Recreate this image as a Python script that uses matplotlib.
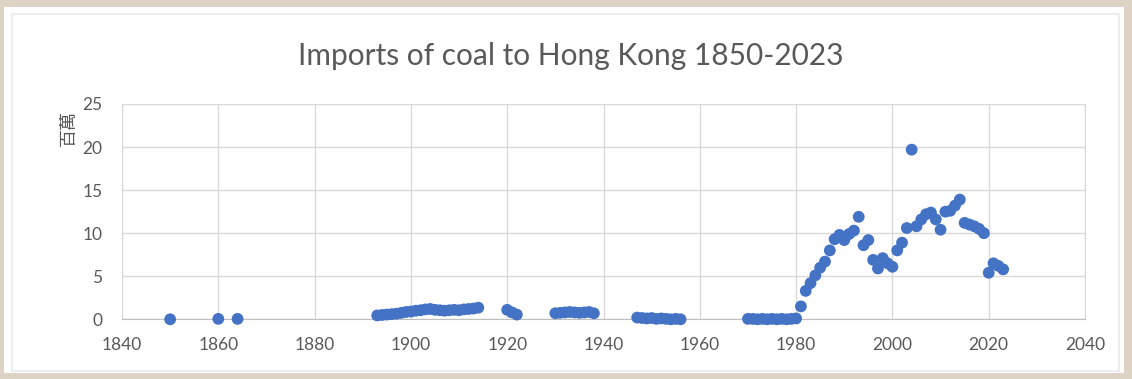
import matplotlib.pyplot as plt
from matplotlib.patches import Rectangle

# coal imports, millions of tonnes
years_early = [1850, 1860, 1864]
vals_early = [0.0, 0.05, 0.05]

years_1890s = list(range(1893, 1915))
vals_1890s = [0.45, 0.5, 0.55, 0.6, 0.65, 0.75, 0.85, 0.9, 1.0, 1.05, 1.15, 1.2, 1.1, 1.05,
              1.0, 1.05, 1.1, 1.05, 1.15, 1.2, 1.25, 1.35]

years_1920s = [1920, 1921, 1922]
vals_1920s = [1.1, 0.8, 0.55]

years_1930s = list(range(1930, 1939))
vals_1930s = [0.7, 0.75, 0.8, 0.85, 0.8, 0.75, 0.8, 0.85, 0.7]

years_1940s = list(range(1947, 1957))
vals_1940s = [0.2, 0.15, 0.1, 0.15, 0.05, 0.1, 0.05, 0.0, 0.05, 0.0]

years_modern = list(range(1970, 2024))
vals_modern = [0.05, 0.05, 0.0, 0.05, 0.0, 0.05, 0.0, 0.05, 0.0, 0.05, 0.1,
               1.5, 3.3, 4.2, 5.1, 6.0, 6.7, 8.0, 9.3, 9.8, 9.2,
               9.9, 10.3, 11.9, 8.6, 9.2, 6.9, 5.9, 7.1, 6.5, 6.1,
               8.0, 8.9, 10.6, 19.7, 10.8, 11.6, 12.2, 12.4, 11.6, 10.4,
               12.5, 12.6, 13.2, 13.9, 11.2, 11.0, 10.8, 10.5, 10.0, 5.4,
               6.5, 6.2, 5.8]

years = years_early + years_1890s + years_1920s + years_1930s + years_1940s + years_modern
vals = vals_early + vals_1890s + vals_1920s + vals_1930s + vals_1940s + vals_modern

x_ticks = list(range(1840, 2041, 20))
y_ticks = [0, 5, 10, 15, 20, 25]

text_grey = '#595959'
grid_grey = '#d9d9d9'

W, H = 1132, 379
fig = plt.figure(figsize=(W / 100, H / 100), dpi=100)
fig.patch.set_facecolor('#ddd3c5')
# white chart card on the marble background, with a faint inner frame
fig.patches.append(Rectangle((4 / W, 6 / H), 1120 / W, 366 / H,
                             transform=fig.transFigure, facecolor='white',
                             edgecolor='none', zorder=-10))
fig.patches.append(Rectangle((12 / W, 8 / H), 1107 / W, 357 / H,
                             transform=fig.transFigure, facecolor='none',
                             edgecolor='#ededed', linewidth=1.5, zorder=-9))

ax = fig.add_axes([122 / W, 59.7 / H, 963 / W, 215.3 / H])
ax.set_zorder(5)
ax.set_facecolor('white')
ax.scatter(years, vals, s=72, color='#4472c4', edgecolors='none', zorder=3, clip_on=False)

ax.set_xlim(1840, 2040)
ax.set_ylim(0, 25)
ax.set_xticks(x_ticks)
ax.set_yticks(y_ticks)
ax.grid(True, color=grid_grey, linewidth=1)
ax.set_axisbelow(True)
ax.tick_params(length=0, labelsize=12.5, colors=text_grey)
ax.tick_params(axis='x', pad=13)
ax.tick_params(axis='y', pad=14)
for lbl in ax.get_xticklabels() + ax.get_yticklabels():
    lbl.set_fontfamily('Lato')
for side in ['left', 'right', 'top']:
    ax.spines[side].set_color(grid_grey)
ax.spines['bottom'].set_color('#bfbfbf')

fig.text(571 / W, 1 - 56 / H, 'Imports of coal to Hong Kong 1850-2023',
         ha='center', va='center', fontsize=21.5, color=text_grey, family='Lato')
fig.text(69 / W, 1 - 128 / H, '百萬', rotation=90, ha='center', va='center',
         fontsize=13, color=text_grey, family=['Noto Sans CJK TC', 'DejaVu Sans'])

fig.savefig('out.png', dpi=100, facecolor=fig.get_facecolor())
